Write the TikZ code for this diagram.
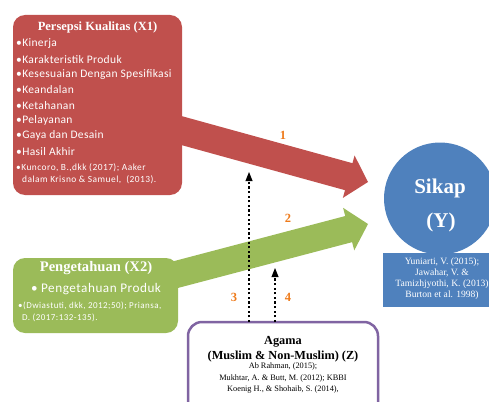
\documentclass[tikz,border=0pt]{standalone}
\usepackage{fontspec}
\setmainfont{Liberation Serif}
\newfontfamily\cali[LetterSpace=3]{Carlito}
\newfontfamily\calic[LetterSpace=5]{Carlito}
\newfontfamily\calip[LetterSpace=4]{Carlito}
\usetikzlibrary{calc}
\definecolor{xred}{HTML}{C0504D}
\definecolor{xgreen}{HTML}{9BBB59}
\definecolor{xblue}{HTML}{4F81BD}
\definecolor{xpurple}{HTML}{8064A2}
\definecolor{xorange}{HTML}{EE7A1A}
\newcommand{\fs}[2]{\fontsize{#1}{#2}\selectfont}
\begin{document}
\begin{tikzpicture}[x=1pt,y=-1pt,
  box/.style={rounded corners=12pt, inner sep=0pt, outer sep=0pt},
  title/.style={text=white, font=\bfseries\fs{12.5}{14}, inner sep=0pt},
  bul/.style={text=white, font=\cali\fs{11.5}{13}, anchor=west, inner sep=0pt},
  cite/.style={text=white, font=\calic\fs{9.4}{11}, anchor=west, inner sep=0pt},
  ztxt/.style={text=black, font=\fs{8.3}{11.5}, align=center, inner sep=0pt},
  num/.style={text=xorange, font=\bfseries\fs{12.5}{14}, inner sep=0pt},
  dotarrow/.style={line width=2.3pt, dash pattern=on 2.3pt off 2.3pt},
  dothead/.style={fill=black}
]
\useasboundingbox (0,0) rectangle (489,401);
\clip (0,0) rectangle (489,401);

% big arrows (drawn first, boxes cover their start)
\coordinate (rs) at (170,127.4);
\coordinate (rt) at (368,182);
\coordinate (rb) at ($(rt)!20pt!(rs)$);
\fill[xred] ($(rs)!14pt!90:(rt)$) -- ($(rb)!14pt!-90:(rs)$) -- ($(rb)!22pt!-90:(rs)$) -- (rt)
  -- ($(rb)!22pt!90:(rs)$) -- ($(rb)!14pt!90:(rs)$) -- ($(rs)!14pt!-90:(rt)$) -- cycle;

\coordinate (gs) at (170,276.1);
\coordinate (gt) at (368,224);
\coordinate (gb) at ($(gt)!20pt!(gs)$);
\fill[xgreen] ($(gs)!13.5pt!90:(gt)$) -- ($(gb)!13.5pt!-90:(gs)$) -- ($(gb)!22pt!-90:(gs)$) -- (gt)
  -- ($(gb)!22pt!90:(gs)$) -- ($(gb)!13.5pt!90:(gs)$) -- ($(gs)!13.5pt!-90:(gt)$) -- cycle;

% X1 box
\node[box, fill=xred, minimum width=169pt, minimum height=180pt] (x1) at (97.5,105) {};
\node[title] (x1t) at (97.5,27) {Persepsi Kualitas (X1)};
\foreach \t [count=\i] in {Kinerja, Karakteristik Produk, Kesesuaian Dengan Spesifikasi, Keandalan, Ketahanan, Pelayanan, Gaya dan Desain, Hasil Akhir}
  \node[bul] (x1l\i) at (16, {44+15.3*(\i-1)}) {•\t};
\node[cite] (x1c1) at (16,167.5) {•Kuncoro, B.,dkk (2017); Aaker};
\node[cite] (x1c2) at (22,180) {dalam Krisno \& Samuel,\ \ (2013).};

% X2 box
\node[box, fill=xgreen, minimum width=165pt, minimum height=75pt] (x2) at (95.5,295.5) {};
\node[title, font=\bfseries\fs{14.6}{16}] (x2t) at (96,268) {Pengetahuan (X2)};
\node[text=white, font=\calip\fs{13.2}{15}, inner sep=0pt] (x2l) at (96,289) {• Pengetahuan Produk};
\node[cite, font=\calic\fs{9}{10}] (x2c1) at (18,306) {•(Dwiastuti, dkk, 2012;50); Priansa,};
\node[cite, font=\calic\fs{9}{10}] (x2c2) at (22,318) {D. (2017:132-135).};

% Y
\node[circle, fill=xblue, minimum size=112pt, inner sep=0pt] (y) at (440,198.5) {};
\node[title, font=\bfseries\fs{21}{23}] (yt) at (440,188) {Sikap};
\node[title, font=\bfseries\fs{21}{23}] (yy) at (441,222) {(Y)};
\node[fill=xblue, minimum width=120pt, minimum height=54pt, inner sep=0pt, anchor=north west] (yr) at (383,253) {};
\node[ztxt, text=white, font=\fs{9.6}{11}] (yc) at (442,279) {Yuniarti, V. (2015);\\Jawahar, V. \&\\Tamizhjyothi, K. (2013)\\Burton et al. 1998)};

% Z
\node[box, rounded corners=14pt, draw=xpurple, line width=2.5pt, fill=white, minimum width=190pt, minimum height=98pt] (z) at (283,371) {};
\node[ztxt, font=\bfseries\fs{12.3}{14.5}] (zt) at (283,349) {Agama\\(Muslim \& Non-Muslim) (Z)};
\node[ztxt] (zc) at (283,378.5) {Ab Rahman, (2015);\\Mukhtar, A. \& Butt, M. (2012); KBBI\\Koenig H., \& Shohaib, S. (2014),};

% dotted arrows
\coordinate (t3) at (249,180);
\coordinate (h3) at (249,172);
\coordinate (t4) at (275,276);
\coordinate (h4) at (275,268);
\draw[dotarrow] (z.north -| t3) -- (t3);
\draw[dotarrow] (z.north -| t4) -- (t4);
\fill[dothead] (h3) -- ++(-3.6,9) -- ++(7.2,0) -- cycle;
\fill[dothead] (h4) -- ++(-3.6,9) -- ++(7.2,0) -- cycle;

% numbers
\node[num] (n1) at (283,135) {1};
\node[num] (n2) at (288,218) {2};
\node[num] (n3) at (234,297) {3};
\node[num] (n4) at (288,297) {4};
\end{tikzpicture}
\end{document}
